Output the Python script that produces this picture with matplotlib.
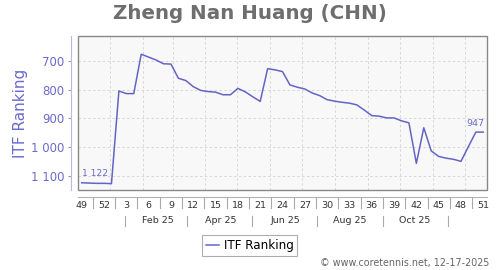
import datetime as dt
import matplotlib
matplotlib.use('Agg')
import matplotlib.pyplot as plt
import matplotlib.dates as mdates
import matplotlib.transforms as mtransforms
from matplotlib.patches import Rectangle

# weekly ITF ranking, ISO week 49/2024 .. week 51/2025
first_monday = dt.date(2024, 12, 2)
ranking = [1122, 1123, 1124, 1124, 1125, 805, 814, 814, 678, 688,
           698, 711, 712, 761, 769, 790, 803, 807, 809, 818,
           818, 796, 808, 825, 841, 728, 732, 738, 784, 792,
           798, 812, 821, 835, 840, 844, 847, 853, 871, 890,
           892, 898, 898, 908, 915, 1055, 932, 1012, 1031, 1037,
           1041, 1048, 997, 947, 947]
y_ticks = [700, 800, 900, 1000, 1100]
month_labels = ['Feb 25', 'Apr 25', 'Jun 25', 'Aug 25', 'Oct 25']
month_label_dates = [dt.date(2025, m, 15) for m in (2, 4, 6, 8, 10)]
month_sep_dates = [dt.date(2025, m, 15) for m in (1, 3, 5, 7, 9, 11)]

line_col = '#6464c8'
label_col = '#6a6acd'

mondays = [first_monday + dt.timedelta(weeks=i) for i in range(len(ranking))]
x = [mdates.date2num(d) + 3.5 for d in mondays]

fig = plt.figure(figsize=(5, 2.7), dpi=100)
ax = fig.add_axes([78 / 500, 80 / 270, 409 / 500, 154.3 / 270])
ax.set_facecolor('#f8f8f8')

ax.plot(x, ranking, color=line_col, lw=1.1, label='ITF Ranking')

ax.set_xlim(mdates.date2num(dt.date(2024, 12, 2)), mdates.date2num(dt.date(2025, 12, 22)))
ax.set_ylim(1147, 614)

# monthly vertical grid, horizontal grid at y ticks
for m in range(1, 13):
    ax.axvline(mdates.date2num(dt.date(2025, m, 1)), color='#d6d6d6', lw=0.7,
               ls=(0, (2.5, 2.5)), zorder=0)
ax.set_yticks(y_ticks)
ax.set_yticklabels([f'{v:,}'.replace(',', ' ') for v in y_ticks])
ax.yaxis.grid(True, color='#d6d6d6', lw=0.7, ls=(0, (2.5, 2.5)))
ax.set_axisbelow(True)

for s in ax.spines.values():
    s.set_visible(False)
ax.add_patch(Rectangle((0, 0), 1, 1, transform=ax.transAxes, fill=False,
                       edgecolor='#888888', lw=1, zorder=5, clip_on=False))
ax.spines['left'].set_visible(True)
ax.spines['left'].set_position(('outward', 5))
ax.spines['left'].set_color('#b8b8e4')
ax.spines['bottom'].set_visible(True)
ax.spines['bottom'].set_position(('outward', 5))
ax.spines['bottom'].set_color('#b0b0b0')

ax.tick_params(axis='y', length=2, color='#999999', pad=3, labelsize=8.5,
               labelcolor=label_col)

# week labels every third week
wk_idx = list(range(0, len(ranking), 3))
ax.set_xticks([x[i] for i in wk_idx])
ax.set_xticklabels([str(mondays[i].isocalendar()[1]) for i in wk_idx])
ax.tick_params(axis='x', length=0, pad=3, labelsize=6.8, labelcolor='#333333')

trans = mtransforms.blended_transform_factory(ax.transData, ax.transAxes)
for i in wk_idx[:-1]:
    xs = mdates.date2num(mondays[i + 2])
    ax.plot([xs, xs], [-0.052, -0.117], transform=trans, color='#aaaaaa',
            lw=0.8, clip_on=False)
for d in month_sep_dates:
    xs = mdates.date2num(d)
    ax.plot([xs, xs], [-0.168, -0.233], transform=trans, color='#aaaaaa',
            lw=0.8, clip_on=False)
for d, lab in zip(month_label_dates, month_labels):
    ax.text(mdates.date2num(d), -0.199, lab, transform=trans, ha='center',
            va='center', fontsize=6.8, color='#333333')

ax.annotate('1 122', (x[0], ranking[0]), xytext=(0, 3.5), textcoords='offset points',
            ha='left', va='bottom', fontsize=6.6, color=label_col)
ax.annotate(str(ranking[-1]), (x[-1], ranking[-1]), xytext=(1, 3),
            textcoords='offset points', ha='right', va='bottom', fontsize=6.8,
            color=label_col)

fig.text(0.5, 1 - 19 / 270, 'Zheng Nan Huang (CHN)', ha='center', va='baseline',
         fontsize=14.3, fontweight='bold', color='#6e6e6e')
fig.text(20.5 / 500, 1 - 113 / 270, 'ITF Ranking', rotation=90, ha='center',
         va='center', fontsize=11, color=label_col)

leg = ax.legend(loc='center', bbox_to_anchor=(249.5 / 500, 1 - 245.5 / 270),
                bbox_transform=fig.transFigure, fontsize=8.6, frameon=True,
                fancybox=False, handlelength=1.1, handletextpad=0.4,
                borderpad=0.3, borderaxespad=0)
leg.get_frame().set_edgecolor('#999999')
leg.get_frame().set_linewidth(0.8)

fig.text(489 / 500, 1 - 263 / 270, '\u00a9 www.coretennis.net, 12-17-2025',
         ha='right', va='center', fontsize=6.9, color='#666666')

fig.savefig('out.png', dpi=100)
